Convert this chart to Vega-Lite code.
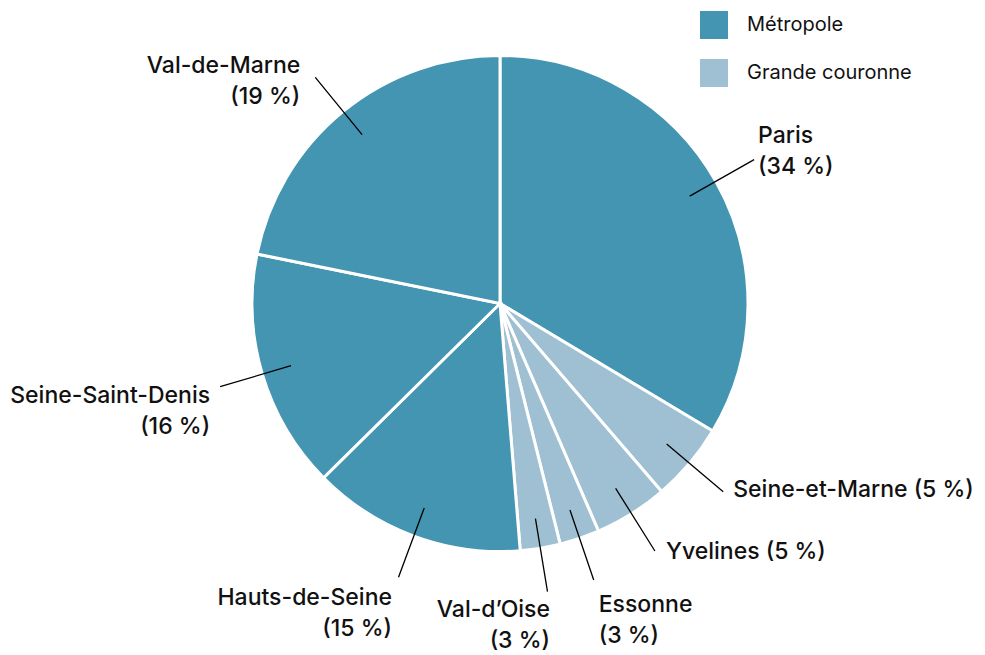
{
  "$schema": "https://vega.github.io/schema/vega-lite/v6.json",
  "autosize": {"type": "none"},
  "width": 970,
  "height": 607,
  "padding": {"left": 15, "top": 0, "right": 0, "bottom": 48},
  "background": "white",
  "config": {"view": {"stroke": null}, "text": {"font": "Inter"}},
  "data": {
    "values": [
      {"idx": 1, "name": "Paris", "label": "Paris\n(34 %)", "group": "Métropole", "value": 33.6},
      {"idx": 2, "name": "Seine-et-Marne", "label": "Seine-et-Marne (5 %)", "group": "Grande couronne", "value": 5.1},
      {"idx": 3, "name": "Yvelines", "label": "Yvelines (5 %)", "group": "Grande couronne", "value": 4.8},
      {"idx": 4, "name": "Essonne", "label": "Essonne\n(3 %)", "group": "Grande couronne", "value": 2.6},
      {"idx": 5, "name": "Val-d'Oise", "label": "Val-d’Oise\n(3 %)", "group": "Grande couronne", "value": 2.6},
      {"idx": 6, "name": "Hauts-de-Seine", "label": "Hauts-de-Seine\n(15 %)", "group": "Métropole", "value": 13.9},
      {"idx": 7, "name": "Seine-Saint-Denis", "label": "Seine-Saint-Denis\n(16 %)", "group": "Métropole", "value": 15.6},
      {"idx": 8, "name": "Val-de-Marne", "label": "Val-de-Marne\n(19 %)", "group": "Métropole", "value": 21.8}
    ]
  },
  "transform": [
    {"window": [{"op": "sum", "field": "value", "as": "end"}], "sort": [{"field": "idx"}], "frame": [null, 0]},
    {"calculate": "datum.end - datum.value", "as": "start"},
    {"calculate": "datum.end - datum.value / 2", "as": "mid"}
  ],
  "encoding": {
    "theta": {"field": "mid", "type": "quantitative", "stack": null, "scale": {"domain": [0, 100], "range": [0, 6.283185307179586]}}
  },
  "layer": [
    {
      "mark": {"type": "arc", "outerRadius": 248, "stroke": "white", "strokeWidth": 3},
      "encoding": {
        "theta": {"field": "start", "type": "quantitative", "stack": null},
        "theta2": {"field": "end"},
        "color": {
          "field": "group", "type": "nominal",
          "scale": {"domain": ["Métropole", "Grande couronne"], "range": ["#4395b1", "#9ec0d2"]},
          "legend": {
            "title": null, "orient": "none", "legendX": 685, "legendY": 11,
            "symbolType": "square", "symbolSize": 784, "symbolStrokeWidth": 0, "symbolOpacity": 1,
            "rowPadding": 20, "labelOffset": 19, "labelFont": "Inter", "labelFontSize": 20,
            "labelLimit": 400, "labelColor": "#111", "padding": 0
          }
        }
      }
    },
    {
      "mark": {"type": "arc", "outerRadius": 292, "innerRadius": 218, "stroke": "#000", "strokeWidth": 1.3, "fill": null},
      "encoding": {"theta2": {"field": "mid"}}
    },
    {
      "transform": [{"filter": "datum.name == 'Paris'"}],
      "mark": {"type": "text", "radius": 292, "align": "left", "baseline": "alphabetic", "dx": 4, "dy": -17, "fontSize": 23, "fontWeight": 500, "lineHeight": 31, "lineBreak": "\n", "color": "#111"},
      "encoding": {"text": {"field": "label"}}
    },
    {
      "transform": [{"filter": "datum.name == 'Seine-et-Marne'"}],
      "mark": {"type": "text", "radius": 292, "align": "left", "baseline": "alphabetic", "dx": 10, "dy": 5, "fontSize": 23, "fontWeight": 500, "lineHeight": 31, "lineBreak": "\n", "color": "#111"},
      "encoding": {"text": {"field": "label"}}
    },
    {
      "transform": [{"filter": "datum.name == 'Yvelines'"}],
      "mark": {"type": "text", "radius": 292, "align": "left", "baseline": "alphabetic", "dx": 11, "dy": 8, "fontSize": 23, "fontWeight": 500, "lineHeight": 31, "lineBreak": "\n", "color": "#111"},
      "encoding": {"text": {"field": "label"}}
    },
    {
      "transform": [{"filter": "datum.name == 'Essonne'"}],
      "mark": {"type": "text", "radius": 292, "align": "left", "baseline": "alphabetic", "dx": 5, "dy": 32, "fontSize": 23, "fontWeight": 500, "lineHeight": 31, "lineBreak": "\n", "color": "#111"},
      "encoding": {"text": {"field": "label"}}
    },
    {
      "transform": [{"filter": "datum.name == \"Val-d'Oise\""}],
      "mark": {"type": "text", "radius": 292, "align": "right", "baseline": "alphabetic", "dx": 2.5, "dy": 25, "fontSize": 23, "fontWeight": 500, "lineHeight": 31, "lineBreak": "\n", "color": "#111"},
      "encoding": {"text": {"field": "label"}}
    },
    {
      "transform": [{"filter": "datum.name == 'Hauts-de-Seine'"}],
      "mark": {"type": "text", "radius": 292, "align": "right", "baseline": "alphabetic", "dx": -6.5, "dy": 28, "fontSize": 23, "fontWeight": 500, "lineHeight": 31, "lineBreak": "\n", "color": "#111"},
      "encoding": {"text": {"field": "label"}}
    },
    {
      "transform": [{"filter": "datum.name == 'Seine-Saint-Denis'"}],
      "mark": {"type": "text", "radius": 292, "align": "right", "baseline": "alphabetic", "dx": -10, "dy": 16, "fontSize": 23, "fontWeight": 500, "lineHeight": 31, "lineBreak": "\n", "color": "#111"},
      "encoding": {"text": {"field": "label"}}
    },
    {
      "transform": [{"filter": "datum.name == 'Val-de-Marne'"}],
      "mark": {"type": "text", "radius": 292, "align": "right", "baseline": "alphabetic", "dx": -15, "dy": -4, "fontSize": 23, "fontWeight": 500, "lineHeight": 31, "lineBreak": "\n", "color": "#111"},
      "encoding": {"text": {"field": "label"}}
    }
  ]
}
